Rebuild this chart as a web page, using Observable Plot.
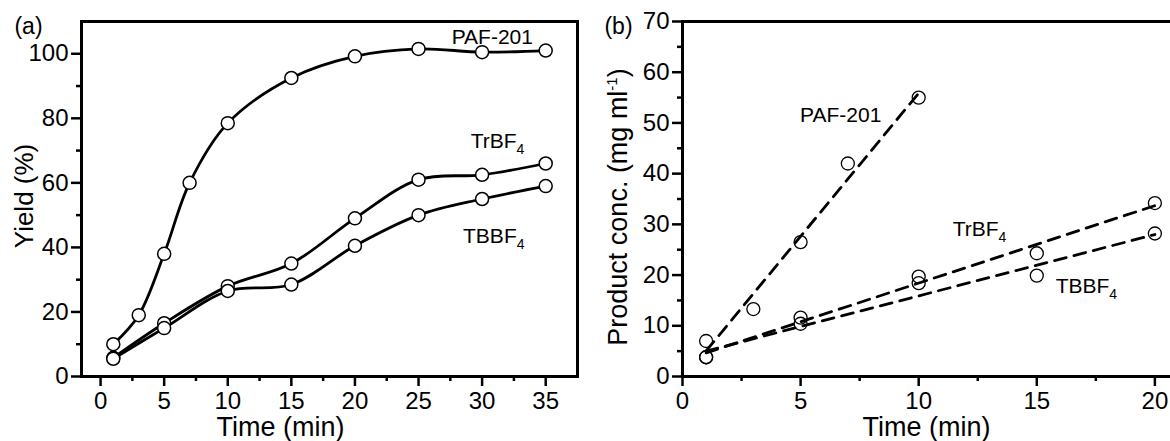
<!DOCTYPE html>
<html><head><meta charset="utf-8">
<script src="https://cdn.jsdelivr.net/npm/d3@7"></script>
<script src="https://cdn.jsdelivr.net/npm/@observablehq/plot@0.6"></script>
<style>
html,body{margin:0;padding:0;background:#fff;overflow:hidden;}
#wrap{position:relative;width:1170px;height:441px;overflow:hidden;background:#fff;}
#a{position:absolute;left:0;top:0;width:590px;height:441px;}
#b{position:absolute;left:590px;top:0;width:600px;height:441px;}
#wrap svg{max-width:none !important;display:block;}
</style></head><body><div id="wrap"><div id="a"></div><div id="b"></div></div>
<script>
// ---------- Panel (a): Yield vs time ----------
const timePafA = [1, 3, 5, 7, 10, 15, 20, 25, 30, 35];
const yieldPaf = [10, 19, 38, 60, 78.5, 92.5, 99.2, 101.5, 100.5, 101];
const timeSaltA = [1, 5, 10, 15, 20, 25, 30, 35];
const yieldTrBF4 = [5.8, 16.5, 28, 35, 49, 61, 62.5, 66];
const yieldTBBF4 = [5.5, 15, 26.5, 28.5, 40.5, 50, 55, 59];
const xMajorA = [0, 5, 10, 15, 20, 25, 30, 35];
const xMinorA = [2.5, 7.5, 12.5, 17.5, 22.5, 27.5, 32.5];
const yMajorA = [0, 20, 40, 60, 80, 100];
const yMinorA = [10, 30, 50, 70, 90];
const labelNamesA = ["PAF-201", "TrBF4", "TBBF4"];
const labelXA = [30.8, 29.1, 28.5];
const labelYA = [105, 73, 43.5];
const labelAnchorA = ["middle", "start", "start"];

// ---------- Panel (b): Product conc. vs time ----------
const timePafB = [1, 3, 5, 7, 10];
const concPaf = [7, 13.3, 26.5, 42, 55];
const timeSaltB = [1, 5, 10, 15, 20];
const concTrBF4 = [3.8, 11.6, 19.7, 24.3, 34.2];
const concTBBF4 = [3.8, 10.4, 18.4, 19.9, 28.2];
const xMajorB = [0, 5, 10, 15, 20];
const xMinorB = [2.5, 7.5, 12.5, 17.5];
const yMajorB = [0, 10, 20, 30, 40, 50, 60, 70];
const yMinorB = [5, 15, 25, 35, 45, 55, 65];
const labelNamesB = ["PAF-201", "TrBF4", "TBBF4"];
const labelXB = [6.7, 11.44, 15.8];
const labelYB = [51.5, 29, 17.75];
const labelAnchorB = ["middle", "start", "start"];

const FONT = '"Liberation Sans", Arial, Helvetica, sans-serif';

function rows(series) {
  const out = [];
  for (const [name, xs, ys] of series) xs.forEach((x, i) => out.push({s: name, t: x, v: ys[i]}));
  return out;
}
function labelRows(names, xs, ys, anchors) {
  return names.map((n, i) => ({name: n, x: xs[i], y: ys[i], anchor: anchors[i]}));
}

const dataA = rows([["PAF-201", timePafA, yieldPaf], ["TrBF4", timeSaltA, yieldTrBF4], ["TBBF4", timeSaltA, yieldTBBF4]]);
const dataB = rows([["PAF-201", timePafB, concPaf], ["TrBF4", timeSaltB, concTrBF4], ["TBBF4", timeSaltB, concTBBF4]]);
const labsA = labelRows(labelNamesA, labelXA, labelYA, labelAnchorA);
const labsB = labelRows(labelNamesB, labelXB, labelYB, labelAnchorB);

function axes(xMajor, xMinor, yMajor, yMinor) {
  return [
    Plot.axisX({ticks: xMinor, tickSize: 5, tickFormat: () => "", label: null, strokeWidth: 2.5}),
    Plot.axisX({ticks: xMajor, tickSize: 10, tickPadding: 5, fontSize: 24, label: null, strokeWidth: 2.5}),
    Plot.axisY({ticks: yMinor, tickSize: 5, tickFormat: () => "", label: null, strokeWidth: 2.5}),
    Plot.axisY({ticks: yMajor, tickSize: 10, tickPadding: 3, fontSize: 24, label: null, strokeWidth: 2.5})
  ];
}

function seriesLabels(labs) {
  return ["start", "middle"].map(a =>
    Plot.text(labs.filter(d => d.anchor === a), {x: "x", y: "y", text: "name", textAnchor: a, lineAnchor: "middle", fontSize: 21, fill: "black"})
  );
}

const plotA = Plot.plot({
  width: 590, height: 441,
  marginTop: 21, marginLeft: 81, marginRight: 13, marginBottom: 65,
  style: {fontFamily: FONT, color: "black", background: "white", overflow: "visible"},
  x: {domain: [-1.5, 37.5]},
  y: {domain: [0, 110]},
  marks: [
    Plot.line(dataA, {x: "t", y: "v", z: "s", curve: "catmull-rom", stroke: "black", strokeWidth: 2.8}),
    Plot.dot(dataA, {x: "t", y: "v", r: 6.5, fill: "white", stroke: "black", strokeWidth: 1.5}),
    ...axes(xMajorA, xMinorA, yMajorA, yMinorA),
    Plot.frame({stroke: "black", strokeWidth: 3}),
    ...seriesLabels(labsA),
    Plot.text(["(a)"], {text: d => d, frameAnchor: "top-left", dx: -53, dy: 5, textAnchor: "middle", lineAnchor: "middle", fontSize: 23}),
    Plot.text(["Yield (%)"], {text: d => d, frameAnchor: "left", rotate: -90, dx: -57, dy: -3, textAnchor: "middle", lineAnchor: "middle", fontSize: 26}),
    Plot.text(["Time (min)"], {text: d => d, frameAnchor: "bottom", dx: -49, dy: 51, textAnchor: "middle", lineAnchor: "middle", fontSize: 27})
  ]
});

const dashed = {stroke: "black", strokeWidth: 2.8, strokeDasharray: "12,8", ci: 0};
const plotB = Plot.plot({
  width: 600, height: 441,
  marginTop: 21, marginLeft: 92, marginRight: 12, marginBottom: 65,
  style: {fontFamily: FONT, color: "black", background: "white", overflow: "visible"},
  x: {domain: [0, 21]},
  y: {domain: [0, 70]},
  marks: [
    Plot.linearRegressionY(dataB.filter(d => d.s === "PAF-201"), {x: "t", y: "v", ...dashed}),
    Plot.linearRegressionY(dataB.filter(d => d.s === "TrBF4"), {x: "t", y: "v", ...dashed}),
    Plot.linearRegressionY(dataB.filter(d => d.s === "TBBF4"), {x: "t", y: "v", ...dashed}),
    Plot.dot(dataB, {x: "t", y: "v", r: 6.5, fill: "none", stroke: "black", strokeWidth: 1.3}),
    ...axes(xMajorB, xMinorB, yMajorB, yMinorB),
    Plot.frame({stroke: "black", strokeWidth: 3}),
    ...seriesLabels(labsB),
    Plot.text(["(b)"], {text: d => d, frameAnchor: "top-left", dx: -64, dy: 5, textAnchor: "middle", lineAnchor: "middle", fontSize: 23}),
    Plot.text(["Product conc. (mg ml-1)"], {text: d => d, frameAnchor: "left", rotate: -90, dx: -64, dy: 8, textAnchor: "middle", lineAnchor: "middle", fontSize: 27}),
    Plot.text(["Time (min)"], {text: d => d, frameAnchor: "bottom", dx: -4, dy: 51, textAnchor: "middle", lineAnchor: "middle", fontSize: 27})
  ]
});

// Rich text: subscripts and superscripts as real tspans
const NS = "http://www.w3.org/2000/svg";
function span(parent, txt, attrs) {
  const s = document.createElementNS(NS, "tspan");
  s.textContent = txt;
  for (const k in attrs) s.setAttribute(k, attrs[k]);
  parent.appendChild(s);
}
function rich(svg) {
  svg.querySelectorAll("text").forEach(t => {
    const s = t.textContent;
    let m;
    if ((m = s.match(/^(T[rB]BF)4$/))) {
      t.textContent = "";
      span(t, m[1], {});
      span(t, "4", {"font-size": "14px", dy: "6"});
    } else if (s === "Product conc. (mg ml-1)") {
      t.textContent = "";
      span(t, "Product conc. (mg ml", {});
      span(t, "-1", {"font-size": "15px", dy: "-10"});
      span(t, ")", {dy: "10"});
    }
  });
}
rich(plotA); rich(plotB);
document.getElementById("a").appendChild(plotA);
document.getElementById("b").appendChild(plotB);
</script></body></html>
